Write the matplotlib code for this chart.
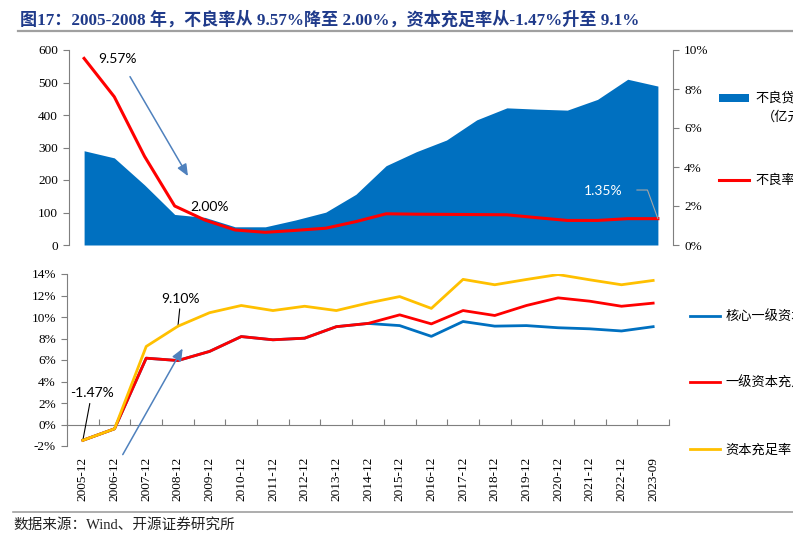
import matplotlib
matplotlib.use("Agg")
import matplotlib.pyplot as plt
from matplotlib.lines import Line2D
from matplotlib.patches import Patch

# ---------------- data ----------------
dates = ["2005-12", "2006-12", "2007-12", "2008-12", "2009-12", "2010-12",
         "2011-12", "2012-12", "2013-12", "2014-12", "2015-12", "2016-12",
         "2017-12", "2018-12", "2019-12", "2020-12", "2021-12", "2022-12",
         "2023-09"]

# top panel (20 observations)
npl_balance = [290, 268, 185, 94, 85, 56, 56, 77, 101, 156, 244, 287, 323,
               385, 422, 418, 415, 448, 510, 489]
npl_ratio = [9.57, 7.6, 4.55, 2.00, 1.28, 0.77, 0.65, 0.75, 0.86, 1.2, 1.6,
             1.58, 1.57, 1.56, 1.55, 1.40, 1.26, 1.26, 1.35, 1.35]

# bottom panel (19 observations)
core_tier1 = [-1.47, -0.4, 6.17, 5.95, 6.8, 8.18, 7.88, 8.03, 9.1, 9.4, 9.2,
              8.2, 9.58, 9.15, 9.2, 9.0, 8.9, 8.7, 9.1]
tier1 = [-1.47, -0.4, 6.17, 5.95, 6.8, 8.18, 7.88, 8.03, 9.1, 9.4, 10.2,
         9.36, 10.6, 10.14, 11.07, 11.78, 11.47, 11.0, 11.29]
car = [-1.47, -0.4, 7.26, 9.14, 10.4, 11.07, 10.6, 11.0, 10.6, 11.3, 11.9,
       10.8, 13.5, 13.0, 13.49, 13.95, 13.46, 13.0, 13.4]

left_ticks_top = [0, 100, 200, 300, 400, 500, 600]
right_ticks_top = [0, 2, 4, 6, 8, 10]
ticks_bottom = [-2, 0, 2, 4, 6, 8, 10, 12, 14]

title = "图17：2005-2008 年，不良率从 9.57%降至 2.00%，资本充足率从-1.47%升至 9.1%"
source = "数据来源：Wind、开源证券研究所"

BLUE = "#0070C0"
RED = "#FF0000"
YELLOW = "#FFC000"
ARROW = "#4F81BD"
SPINE = "#7F7F7F"
CJK = ["Noto Sans CJK SC", "DejaVu Sans"]
SERIF = ["Liberation Serif", "Noto Sans CJK SC"]

fig = plt.figure(figsize=(7.93, 5.49), dpi=100)
W, H = 793, 549

def fx(px):
    return px / W

def fy(py):
    return 1 - py / H

# ---------------- title and frame lines ----------------
fig.text(fx(20), fy(20), title, family=SERIF, fontweight="bold",
         fontsize=12.3, color="#1F3A8A", va="center", ha="left")
fig.add_artist(Line2D([fx(18), 1.0], [fy(31), fy(31)], color="#A0A0A0", lw=1.6))
fig.add_artist(Line2D([fx(13), 1.0], [fy(512), fy(512)], color="#A0A0A0", lw=1.2))
fig.text(fx(13), fy(525), source, family=SERIF, fontsize=10.5, color="#222222",
         va="center", ha="left")

# ---------------- top panel ----------------
ax1 = fig.add_axes([fx(69), fy(245), fx(673 - 69), (245 - 50) / H])
xt = list(range(len(npl_balance)))
ax1.fill_between(xt, 0, npl_balance, color=BLUE, linewidth=0, zorder=1)
ax1.set_xlim(-0.5, len(npl_balance) - 0.5)
ax1.set_ylim(0, 600)
ax1.set_yticks(left_ticks_top)
ax1.set_yticklabels([str(v) for v in left_ticks_top], family=SERIF, fontsize=9.5)
ax1.set_xticks([])
for s in ["top", "right", "bottom"]:
    ax1.spines[s].set_visible(False)
ax1.spines["left"].set_color(SPINE)
ax1.tick_params(axis="y", direction="out", length=4, color=SPINE, pad=4)
ax1.patch.set_alpha(0)

ax1r = ax1.twinx()
ax1r.plot(xt, npl_ratio, color=RED, lw=2.2, zorder=3)
ax1r.set_ylim(0, 10)
ax1r.set_yticks(right_ticks_top)
ax1r.set_yticklabels([f"{v}%" for v in right_ticks_top], family=SERIF, fontsize=9.5)
for s in ["top", "left", "bottom"]:
    ax1r.spines[s].set_visible(False)
ax1r.spines["right"].set_color(SPINE)
ax1r.tick_params(axis="y", direction="out", length=4, color=SPINE, pad=4)

ax1.annotate("", xy=(3.44, 212), xytext=(1.52, 518),
             arrowprops=dict(arrowstyle="-|>,head_length=0.7,head_width=0.3",
                             color=ARROW, lw=1.1, shrinkA=0, shrinkB=0))
ax1.text(1.1, 572, "9.57%", family="Lato", fontsize=10, ha="center", va="center")
ax1.text(4.17, 117, "2.00%", family="Lato", fontsize=10, ha="center", va="center")
ax1r.text(17.2, 2.77, "1.35%", family="Lato", fontsize=10, color="white",
          ha="center", va="center", zorder=5)
ax1r.annotate("", xy=(19, 1.35), xytext=(18.3, 2.82),
              arrowprops=dict(arrowstyle="-", color="#A6A6A6", lw=0.8,
                              shrinkA=0, shrinkB=0,
                              connectionstyle="angle,angleA=0,angleB=110,rad=0"))

ax1.legend(handles=[Patch(facecolor=BLUE, edgecolor="none", label="不良贷款余额"),
                    Line2D([], [], color=RED, lw=2.2, label="不良率")],
           loc="upper left", bbox_to_anchor=(fx(719), fy(92)),
           bbox_transform=fig.transFigure, frameon=False,
           prop={"family": CJK, "size": 9.5}, handlelength=2.3,
           handleheight=0.55, handletextpad=0.45, labelspacing=5.2,
           borderpad=0, borderaxespad=0)
fig.text(fx(762), fy(117), "（亿元）", family=CJK, fontsize=9.5, va="center", ha="left")

# ---------------- bottom panel ----------------
ax2 = fig.add_axes([fx(67), fy(446), fx(669 - 67), (446 - 274) / H])
xb = list(range(len(dates)))
ax2.plot(xb, core_tier1, color=BLUE, lw=2.0, zorder=2, label="核心一级资本充足率")
ax2.plot(xb, tier1, color=RED, lw=2.0, zorder=3, label="一级资本充足率")
ax2.plot(xb, car, color=YELLOW, lw=2.0, zorder=4, label="资本充足率")
ax2.set_xlim(-0.5, len(dates) - 0.5)
ax2.set_ylim(-2, 14)
ax2.set_yticks(ticks_bottom)
ax2.set_yticklabels([f"{v}%" for v in ticks_bottom], family=SERIF, fontsize=9.5)
ax2.spines["top"].set_visible(False)
ax2.spines["right"].set_visible(False)
ax2.spines["left"].set_color(SPINE)
ax2.spines["bottom"].set_color(SPINE)
ax2.spines["bottom"].set_position(("data", 0))
ax2.set_xticks([i - 0.5 for i in range(len(dates) + 1)])
ax2.set_xticklabels([])
ax2.tick_params(axis="x", direction="in", length=4, color=SPINE)
ax2.tick_params(axis="y", direction="out", length=4, color=SPINE, pad=4)

sec = ax2.secondary_xaxis("bottom")
sec.set_xticks(xb)
sec.set_xticklabels(dates, rotation=90, family=SERIF, fontsize=9.5)
sec.tick_params(length=0, pad=8)
sec.spines["bottom"].set_visible(False)

ax2.annotate("9.10%", xy=(3, 9.1), xytext=(3.09, 11.7), family="Lato", fontsize=10,
             ha="center", va="center",
             arrowprops=dict(arrowstyle="-", color="black", lw=0.8, shrinkA=1, shrinkB=0))
ax2.annotate("-1.47%", xy=(0, -1.47), xytext=(0.28, 2.9), family="Lato", fontsize=10,
             ha="center", va="center",
             arrowprops=dict(arrowstyle="-", color="black", lw=0.8, shrinkA=1, shrinkB=0))
ax2.annotate("", xy=(3.15, 7.07), xytext=(1.26, -2.8), annotation_clip=False,
             arrowprops=dict(arrowstyle="-|>,head_length=0.7,head_width=0.3",
                             color=ARROW, lw=1.1, shrinkA=0, shrinkB=0))

ax2.legend(loc="upper left", bbox_to_anchor=(fx(690), fy(310)),
           bbox_transform=fig.transFigure, frameon=False,
           prop={"family": CJK, "size": 9.5}, handlelength=2.3,
           handletextpad=0.4, labelspacing=4.05, borderpad=0, borderaxespad=0)

fig.savefig("out.png", dpi=100)
